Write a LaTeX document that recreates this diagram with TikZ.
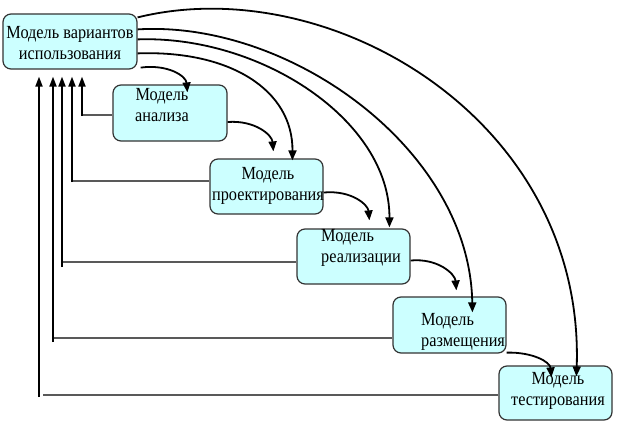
\documentclass[tikz,border=0pt]{standalone}
\usepackage{fontspec}
\setmainfont{Liberation Serif}[FakeStretch=0.88]
\usetikzlibrary{arrows.meta,calc}
\definecolor{boxfill}{RGB}{204,255,255}
\begin{document}
\begin{tikzpicture}[x=1pt,y=-1pt,
  box/.style={draw=black!80, fill=boxfill, rounded corners=8pt, line width=1.2pt, inner sep=0pt},
  txt/.style={inner sep=0pt, font=\fontsize{18.5}{21}\selectfont, align=center},
  arr/.style={line width=1.8pt, -{Triangle[length=10pt,width=8pt]}},
  vline/.style={line width=1.8pt, -{Triangle[length=10pt,width=7pt]}},
  hline/.style={line width=1.2pt, draw=black!65}]
\useasboundingbox (0,0) rectangle (620,425);
% boxes
\node[box, minimum width=134pt, minimum height=55pt] (m1) at (70,41.5) {};
\node[box, minimum width=114pt, minimum height=56pt] (m2) at (170,113) {};
\node[box, minimum width=113pt, minimum height=55pt] (m3) at (266.5,186.5) {};
\node[box, minimum width=113pt, minimum height=55pt] (m4) at (353.5,256.5) {};
\node[box, minimum width=113pt, minimum height=56pt] (m5) at (449.5,325) {};
\node[box, minimum width=113pt, minimum height=54pt] (m6) at (555.5,393) {};
% texts
\node[txt] (t1) at (70,43) {Модель вариантов\\использования};
\node[txt] (t2) at (162,105) {Модель\\анализа};
\node[txt] (t3) at (268,186) {Модель\\проектирования};
\node[txt, anchor=west, align=left] (t4) at (321,248) {Модель\\реализации};
\node[txt, anchor=west, align=left] (t5) at (421,332) {Модель\\размещения};
\node[txt] (t6) at (558,391) {Модель\\тестирования};
% feedback lines
\coordinate (c2) at (82,115);
\coordinate (c3) at (72,181);
\coordinate (c4) at (62,262);
\coordinate (c5) at (53,338);
\coordinate (c6) at (43,395);
\coordinate (v6) at (39,397);
\draw[hline] (m2.west |- c2) -- (c2);
\draw[hline] (m3.west |- c3) -- (c3);
\draw[hline] (m4.west |- c4) -- (c4);
\draw[hline] (m5.west |- c5) -- (c5);
\draw[hline] (m6.west |- c6) -- (c6);
\draw[vline, shorten >=7pt] ($(c2)+(0,1)$) -- (c2 |- m1.south);
\draw[vline, shorten >=7pt] ($(c3)+(0,1)$) -- (c3 |- m1.south);
\draw[vline, shorten >=7pt] ($(c4)+(0,5)$) -- (c4 |- m1.south);
\draw[vline, shorten >=7pt] ($(c5)+(0,4)$) -- (c5 |- m1.south);
\draw[vline, shorten >=7pt] (v6) -- (v6 |- m1.south);
% forward arcs from m1
\draw[arr] ($(m1.south east)+(3,-2)$) .. controls (168,64) and (186,76) .. ($(m2.north west)+(75,8)$);
\draw[arr] ($(m1.north east)+(0,40)$) .. controls (230,50) and (293,90) .. ($(m3.north west)+(83,2)$);
\draw[arr] ($(m1.north east)+(0,26)$) .. controls (260,35) and (390,120) .. ($(m4.north west)+(93,-1)$);
\draw[arr] ($(m1.north east)+(0,16)$) .. controls (290,20) and (470,150) .. ($(m5.north west)+(80,16)$);
\draw[arr] ($(m1.north east)+(0,4)$) .. controls (330,-30) and (585,120) .. ($(m6.north west)+(78,11)$);
% chain arrows
\draw[arr] ($(m2.east)+(0,9)$) .. controls (255,120) and (272,135) .. ($(m3.north west)+(64,-7)$);
\draw[arr] ($(m3.east)+(0,6)$) .. controls (352,190) and (368,205) .. ($(m4.north west)+(73,-8)$);
\draw[arr] ($(m4.east)+(0,4)$) .. controls (438,258) and (455,274) .. ($(m5.north west)+(64,-6)$);
\draw[arr] ($(m5.south east)+(0,-1)$) .. controls (533,352) and (550,362) .. ($(m6.north west)+(53,12)$);
\end{tikzpicture}
\end{document}
